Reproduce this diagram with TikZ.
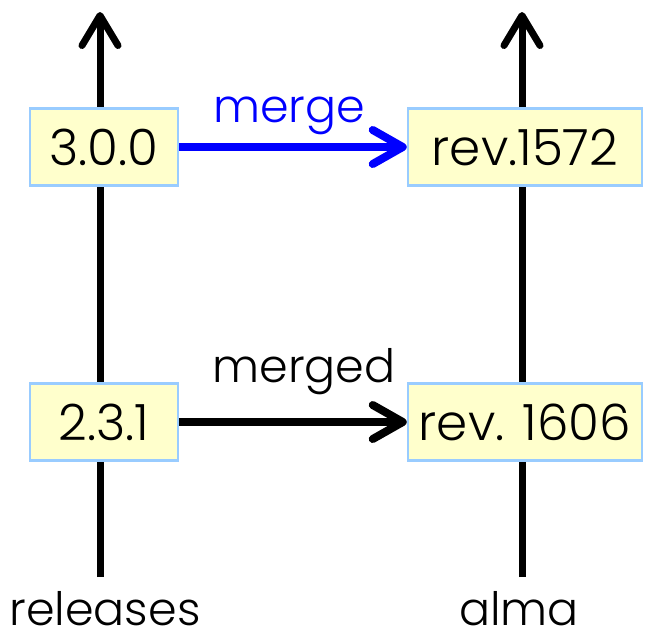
\documentclass[tikz,border=0pt]{standalone}
\usepackage{fontspec}
\setmainfont{Poppins}[UprightFont=* Light]
\usepackage{xcolor}
\usetikzlibrary{arrows.meta}

\definecolor{boxfill}{HTML}{FFFFCC}
\definecolor{boxline}{HTML}{99CCFF}
\definecolor{mergeblue}{HTML}{0000FF}

\tikzset{
  revbox/.style={draw=boxline, line width=2.5pt, fill=boxfill, inner sep=0pt,
    minimum height=77pt, font=\fontsize{50}{54}\selectfont},
  branch/.style={line width=7pt, -{Straight Barb[length=30pt, width=36pt, line cap=round, line join=round]}},
  mergearrow/.style={line width=8pt, -{Straight Barb[length=30pt, width=34pt, line cap=round, line join=round]}},
  lbl/.style={font=\fontsize{46}{50}\selectfont, inner sep=0pt, anchor=base}
}

\begin{document}
\begin{tikzpicture}[x=1pt, y=-1pt]
  \useasboundingbox (0,0) rectangle (647,641);

  % branch lines
  \coordinate (relbot) at (100,577);
  \coordinate (reltop) at (100,12);
  \coordinate (almabot) at (522,577);
  \coordinate (almatop) at (522,12);
  \draw[branch] (relbot) -- (reltop);
  \draw[branch] (almabot) -- (almatop);

  % branch names
  \node[lbl] (relname) at (105,625) {releases};
  \node[lbl] (almaname) at (519,625) {alma};

  % versions and revisions
  \node[revbox, minimum width=148pt] (v300) at (104,147) {3.0.0};
  \node[revbox, minimum width=234pt] (r1572) at (525,147) {rev.1572};
  \node[revbox, minimum width=148pt] (v231) at (104,422) {2.3.1};
  \node[revbox, minimum width=234pt] (r1606) at (525,422) {rev. 1606};

  % merges
  \draw[mergearrow, mergeblue] (v300) -- (r1572)
    node[lbl, midway, yshift=25pt, xshift=-4pt, text=mergeblue] {merge};
  \draw[mergearrow] (v231) -- (r1606)
    node[lbl, midway, yshift=40pt, xshift=11pt] {merged};
\end{tikzpicture}
\end{document}
